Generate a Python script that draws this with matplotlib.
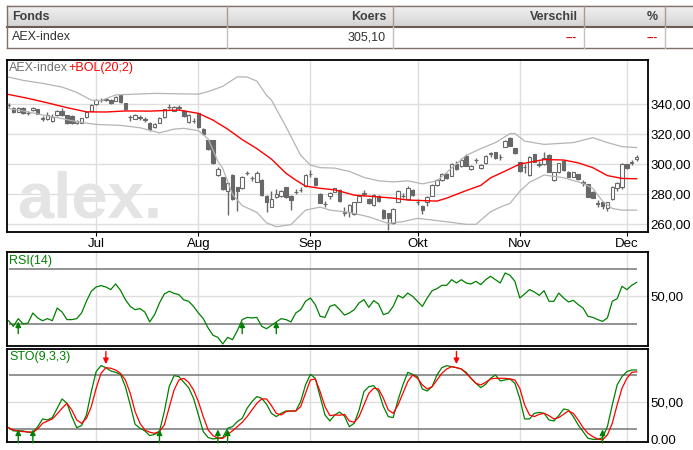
import numpy as np
import matplotlib
matplotlib.use("Agg")
import matplotlib.pyplot as plt
import matplotlib.transforms as mtransforms

plt.rcParams['font.family'] = ['Liberation Sans', 'DejaVu Sans']

# ---- data (AEX-index, daily, trading-day index 0 = 7 jun) ----
opens = [339.8, 337.5, 335.0, 337.5, 334.5, 336.2, 336.6, 330.8, 330.0, 329.0,
         332.6, 335.5, 332.6, 332.2, 327.3, 327.8, 331.3, 335.8, 340.2, 342.8,
         343.2, 342.9, 342.4, 346.2, 340.6, 331.5, 330.4, 331.4, 330.1, 327.8,
         324.6, 327.8, 331.5, 338.3, 335.8, 337.9, 335.8, 328.2, 329.2, 334.0,
         323.8, 316.2, 316.2, 292.6, 291.3, 282.4, 292.9, 284.6, 284.0, 294.3,
         290.8, 288.4, 289.5, 278.9, 271.8, 278.0, 278.9, 284.6, 278.9, 281.7,
         282.8, 285.5, 293.4, 290.9, 280.2, 273.6, 279.0, 281.8, 282.9, 268.1,
         268.0, 266.6, 275.1, 280.5, 276.9, 272.9, 279.1, 269.5, 267.3, 260.6,
         275.1, 279.0, 276.9, 282.9, 275.2, 272.4, 274.6, 279.1, 286.2, 289.5,
         293.3, 292.4, 300.0, 298.6, 305.8, 296.9, 302.8, 297.3, 300.9, 307.2,
         308.0, 305.1, 311.8, 317.3, 310.6, 301.3, 298.5, 292.9, 306.6, 300.1,
         300.0, 306.2, 289.5, 294.6, 302.2, 295.1, 291.8, 293.3, 288.1, 286.6,
         281.8, 274.1, 274.6, 271.1, 276.9, 284.0, 285.1, 300.0, 301.2, 303.5]
closes = [339.3, 335.0, 337.8, 334.0, 334.0, 337.5, 333.8, 330.5, 333.0, 331.8,
          335.8, 332.8, 327.8, 327.5, 329.0, 330.6, 335.0, 339.5, 342.9, 343.0,
          343.4, 340.6, 345.1, 341.5, 336.6, 331.3, 333.0, 331.2, 329.9, 323.3,
          326.9, 330.9, 336.6, 338.5, 338.0, 338.1, 332.2, 332.9, 329.0, 324.6,
          320.2, 310.0, 300.6, 296.6, 283.3, 287.3, 276.6, 282.4, 291.8, 294.5,
          290.6, 294.4, 279.5, 274.9, 276.6, 280.2, 282.4, 278.0, 276.2, 281.9,
          283.0, 292.6, 293.6, 286.2, 274.4, 273.4, 281.0, 284.0, 275.5, 267.9,
          272.9, 274.6, 279.1, 280.7, 274.0, 279.5, 275.5, 264.0, 264.4, 270.2,
          282.2, 279.2, 284.4, 279.5, 275.0, 269.5, 278.2, 286.2, 289.5, 293.3,
          290.6, 300.0, 296.9, 303.1, 299.1, 299.1, 303.0, 299.5, 305.8, 307.4,
          304.0, 304.9, 315.5, 312.4, 307.3, 295.5, 298.3, 305.0, 301.8, 299.9,
          304.4, 295.1, 294.6, 300.6, 296.2, 291.8, 294.6, 290.2, 287.9, 278.4,
          277.8, 273.9, 272.4, 274.6, 285.1, 287.3, 300.0, 297.3, 301.4, 305.1]
highs = [340.8, 338.5, 338.3, 338.0, 335.5, 338.2, 337.0, 332.5, 335.0, 333.5,
         336.2, 337.5, 333.0, 332.8, 329.5, 331.2, 335.5, 340.0, 343.5, 344.0,
         344.2, 343.3, 345.8, 346.5, 341.0, 333.0, 333.5, 332.8, 331.5, 328.2,
         327.3, 331.5, 337.2, 340.0, 338.6, 339.3, 336.3, 333.3, 331.0, 334.5,
         324.2, 316.8, 316.5, 298.5, 291.6, 288.0, 293.3, 285.0, 292.3, 295.8,
         292.5, 295.5, 290.0, 279.3, 282.0, 283.5, 283.0, 285.0, 279.3, 283.5,
         285.0, 293.3, 296.0, 291.5, 280.6, 275.5, 281.8, 284.5, 283.3, 271.5,
         273.5, 275.0, 279.8, 283.0, 277.3, 280.0, 279.5, 270.0, 267.8, 271.0,
         282.8, 281.0, 285.6, 283.3, 277.0, 272.8, 278.8, 286.8, 290.0, 294.5,
         294.5, 301.0, 302.5, 304.0, 306.8, 299.5, 304.5, 300.0, 306.5, 308.5,
         308.5, 307.0, 316.2, 318.0, 311.0, 301.8, 300.5, 305.5, 307.0, 302.0,
         308.0, 306.6, 295.0, 301.0, 302.6, 295.5, 295.0, 293.8, 289.5, 287.0,
         282.3, 276.5, 275.0, 275.0, 285.6, 288.5, 300.8, 300.5, 303.0, 306.5]
lows = [338.5, 334.5, 334.6, 333.5, 332.8, 335.8, 333.3, 329.0, 329.5, 328.3,
        332.0, 332.3, 327.0, 327.0, 326.8, 327.3, 331.0, 335.3, 339.8, 341.8,
        342.5, 340.2, 342.0, 341.2, 336.0, 328.8, 330.0, 329.8, 328.5, 322.5,
        324.0, 327.3, 331.0, 337.2, 335.5, 336.8, 331.8, 327.8, 327.5, 324.0,
        319.8, 309.5, 300.2, 292.2, 282.8, 266.2, 276.0, 269.0, 283.5, 292.8,
        289.0, 288.0, 279.0, 268.4, 271.3, 277.5, 278.5, 277.5, 269.5, 280.5,
        281.8, 285.0, 291.5, 285.8, 274.0, 271.5, 276.9, 281.3, 275.0, 265.3,
        265.0, 266.0, 274.6, 278.8, 273.5, 272.4, 275.0, 263.5, 256.2, 260.2,
        274.6, 277.5, 276.4, 279.0, 273.0, 266.8, 272.5, 278.6, 285.8, 289.0,
        290.0, 292.0, 296.5, 298.2, 298.6, 296.4, 301.0, 296.9, 300.5, 305.0,
        303.5, 303.0, 311.3, 312.0, 306.8, 295.0, 294.0, 292.5, 301.3, 298.3,
        299.5, 294.6, 289.0, 294.2, 295.8, 291.3, 291.3, 289.5, 285.5, 278.0,
        277.3, 271.5, 270.5, 269.0, 276.4, 282.5, 283.5, 296.8, 299.8, 302.5]

# Bollinger (20;2)
ma_day = [0, 4, 8, 12, 16, 20, 24, 29, 35, 39, 42, 45, 48, 51, 54, 57, 59, 61, 64, 67,
          71, 75, 79, 82, 88, 90, 94, 97, 99, 102, 105, 110, 114, 117, 120, 123, 126, 129]
ma_val = [346.6, 344.0, 341.0, 337.8, 335.0, 334.9, 335.6, 335.5, 336.2, 334.0,
          329.5, 323.5, 316.5, 310.5, 303.5, 294.0, 289.5, 285.5, 284.0, 283.0,
          279.5, 278.5, 277.5, 276.2, 275.5, 277.5, 282.5, 286.0, 291.0, 295.5,
          300.2, 303.2, 302.9, 301.0, 297.8, 292.5, 290.6, 290.4]
up_day = [0, 3, 7, 11, 14, 17, 19, 22, 30, 39, 41, 44, 47, 49, 51, 53, 54, 57, 60, 62,
          64, 67, 70, 73, 76, 79, 82, 85, 88, 91, 94, 97, 100, 103, 104, 106, 110, 116,
          120, 123, 126, 129]
up_val = [358.2, 356.0, 354.0, 351.5, 348.0, 342.8, 342.5, 346.3, 347.3, 346.8,
          348.5, 352.0, 358.4, 358.2, 355.5, 346.0, 342.9, 325.0, 306.0, 299.5,
          297.8, 297.5, 295.3, 291.3, 289.0, 288.3, 289.0, 287.0, 289.0, 297.5,
          306.0, 310.5, 314.5, 320.5, 320.6, 315.5, 313.3, 314.5, 317.8, 314.5,
          311.8, 311.2]
lo_day = [0, 4, 7, 11, 14, 18, 23, 27, 31, 34, 36, 39, 41, 43, 44, 46, 48, 51, 53, 55,
          58, 61, 64, 66, 70, 74, 78, 81, 84, 87, 91, 94, 96, 99, 101, 103, 105, 107,
          110, 114, 118, 120, 122, 124, 126, 129]
lo_val = [337.3, 335.0, 332.9, 330.5, 328.4, 326.6, 326.0, 324.4, 321.0, 323.5,
          324.0, 322.5, 317.0, 302.0, 297.3, 280.0, 272.5, 268.0, 261.0, 258.4,
          259.8, 269.5, 271.5, 269.5, 268.0, 265.0, 260.6, 261.8, 264.0, 262.9,
          261.3, 260.0, 260.0, 268.4, 271.5, 274.0, 282.0, 288.0, 292.9, 291.1,
          287.3, 284.0, 275.5, 270.6, 269.5, 269.5]

rsi = [32.4, 28.3, 33.9, 30.0, 30.7, 38.0, 34.4, 32.4, 33.9, 32.4,
       41.6, 38.7, 33.2, 33.2, 33.9, 38.0, 46.5, 53.8, 56.9, 57.9,
       56.9, 55.0, 59.1, 54.5, 47.7, 42.8, 40.4, 41.2, 38.7, 31.5,
       36.8, 45.3, 51.8, 53.8, 52.3, 51.3, 47.5, 46.5, 42.8, 38.0,
       33.9, 27.1, 21.8, 20.3, 15.5, 20.3, 18.6, 25.2, 33.2, 34.8,
       34.4, 34.8, 28.3, 26.6, 29.0, 31.5, 33.9, 33.2, 31.5, 38.0,
       40.4, 46.5, 48.9, 44.1, 35.6, 34.8, 42.8, 44.1, 40.5, 36.5,
       38.0, 40.4, 45.3, 47.7, 42.1, 47.0, 44.5, 36.8, 38.0, 42.8,
       50.8, 48.9, 52.5, 50.1, 46.5, 42.8, 48.9, 54.2, 55.7, 58.1,
       58.1, 62.2, 59.8, 62.2, 59.8, 59.1, 61.0, 58.6, 62.2, 64.7,
       62.2, 59.8, 67.1, 65.4, 61.0, 48.9, 51.8, 55.0, 53.3, 50.8,
       54.2, 46.5, 46.5, 52.5, 48.9, 46.0, 47.2, 44.1, 41.6, 35.6,
       34.8, 33.2, 31.9, 34.4, 46.5, 48.4, 57.4, 55.0, 58.1, 60.3]

sto_k = [21.8, 18.2, 18.2, 18.2, 16.7, 16.7, 22.9, 31.4, 30.3, 32.9,
         43.2, 53.5, 48.7, 34.0, 21.8, 24.0, 35.8, 61.6, 83.7, 90.3,
         88.1, 84.4, 82.9, 80.7, 67.1, 46.9, 25.5, 21.1, 18.2, 13.0,
         14.4, 17.4, 39.5, 67.1, 79.3, 78.2, 71.9, 66.0, 54.2, 35.8,
         17.4, 10.8, 9.3, 10.0, 10.8, 21.1, 22.9, 28.5, 32.1, 43.2,
         50.5, 56.1, 54.2, 47.6, 37.6, 34.0, 37.6, 40.2, 40.2, 40.2,
         50.5, 69.0, 80.7, 76.3, 56.1, 35.8, 29.2, 35.8, 39.0, 34.5,
         22.9, 26.6, 41.3, 61.6, 67.1, 68.2, 61.6, 45.0, 34.0, 32.9,
         52.4, 69.0, 82.9, 80.7, 78.2, 64.5, 62.3, 67.1, 80.0, 88.1,
         90.3, 89.2, 88.1, 86.6, 82.9, 76.3, 70.8, 66.0, 69.7, 76.3,
         80.0, 73.4, 74.5, 75.6, 70.8, 54.2, 31.4, 31.4, 37.6, 38.7,
         37.6, 30.3, 29.2, 35.1, 42.4, 41.3, 34.0, 24.8, 17.4, 10.0,
         8.9, 8.9, 10.8, 22.9, 46.9, 69.0, 78.2, 83.7, 85.5, 85.5]
sto_d = [21.8, 19.2, 18.0, 17.4, 17.0, 16.7, 20.4, 26.6, 29.0, 31.4,
         37.0, 43.2, 48.7, 41.3, 30.3, 26.6, 32.1, 45.0, 65.3, 81.8,
         88.1, 87.4, 85.5, 81.8, 74.5, 59.8, 39.5, 26.6, 19.2, 16.7,
         15.6, 17.4, 24.8, 43.9, 63.4, 74.5, 76.3, 71.9, 63.4, 50.5,
         34.0, 19.2, 13.0, 10.0, 10.0, 14.4, 18.2, 22.9, 27.7, 34.0,
         41.3, 48.7, 53.5, 53.5, 46.1, 37.6, 35.8, 39.5, 40.2, 40.2,
         45.0, 59.8, 74.5, 75.6, 61.6, 45.0, 35.1, 35.8, 35.5, 36.5,
         29.2, 27.7, 34.0, 46.9, 59.8, 65.3, 64.5, 54.2, 41.3, 37.6,
         46.9, 59.8, 72.6, 80.0, 76.3, 69.0, 64.5, 67.1, 74.5, 81.8,
         86.6, 89.2, 88.1, 86.6, 81.8, 76.3, 70.8, 69.0, 71.9, 75.6,
         76.3, 76.3, 76.3, 75.6, 74.5, 65.3, 46.9, 35.8, 34.0, 36.5,
         37.6, 35.1, 31.4, 32.9, 36.5, 40.2, 37.6, 30.3, 21.8, 15.6,
         11.9, 9.3, 8.2, 13.7, 26.6, 46.9, 65.3, 76.3, 82.9, 83.5]

rsi_buy = [2, 48, 55]
sto_buy = [2, 5, 31, 43, 45, 122]
sto_sell = [20, 92]

month_day = [18, 39, 62, 84, 105, 127]
month_lbl = ['Jul', 'Aug', 'Sep', 'Okt', 'Nov', 'Dec']
price_ticks = [260, 280, 300, 320, 340]
price_lbl = ['260,00', '280,00', '300,00', '320,00', '340,00']

# ---- figure ----
W, H = 693, 450
fig = plt.figure(figsize=(W / 100, H / 100), dpi=100)


def box(x0, y0, x1, y1):
    return [x0 / W, 1 - y1 / H, (x1 - x0) / W, (y1 - y0) / H]


GRID = '#dedede'
CANDLE = '#686868'
GREEN = '#008000'

# header table
tab = fig.add_axes([0, 0, 1, 1])
tab.set_xlim(0, W)
tab.set_ylim(H, 0)
tab.axis('off')
grad = np.linspace(0.95, 0.83, 30).reshape(-1, 1)
tab.imshow(grad, cmap='gray', vmin=0, vmax=1, aspect='auto',
           extent=(6.7, W, 27.3, 5.7), zorder=0)
border = '#7f7068'
tab.plot([6.7, W], [5.7, 5.7], color=border, lw=1)
tab.plot([6.7, W], [27.3, 27.3], color='#6a5c54', lw=1.5)
tab.plot([6.7, W], [47.7, 47.7], color=border, lw=1)
tab.plot([6.7, 6.7], [5.7, 47.7], color=border, lw=1)
for xs in [226.7, 393.3, 583.6, 665.3]:
    tab.plot([xs, xs], [5.7, 27.3], color='#a89a90', lw=1)
    tab.plot([xs, xs], [27.3, 47.7], color='#c8c0ba', lw=1)
hdr = dict(fontsize=9, fontweight='bold', color='#404040', va='center')
tab.text(12, 16.5, 'Fonds', ha='left', **hdr)
tab.text(386, 16.5, 'Koers', ha='right', **hdr)
tab.text(578, 16.5, 'Verschil', ha='right', **hdr)
tab.text(658, 16.5, '%', ha='right', **hdr)
row = dict(fontsize=9, color='#333333', va='center')
tab.text(12, 37.5, 'AEX-index', ha='left', **row)
tab.text(386, 37.5, '305,10', ha='right', **row)
dash = dict(fontsize=8, color='#e00000', va='center', ha='right', fontweight='bold')
tab.text(577, 37.5, '---', **dash)
tab.text(658, 37.5, '---', **dash)

XLIM = (-0.25, 131.4)


def frame(ax):
    for s in ax.spines.values():
        s.set_color('black')
        s.set_linewidth(1.3)
    ax.set_xlim(*XLIM)
    ax.set_xticks(month_day)
    ax.grid(True, color=GRID, lw=1)
    ax.set_axisbelow(True)
    ax.yaxis.tick_right()
    ax.tick_params(axis='y', length=0, pad=1.5, labelsize=9.5)


# ---- price panel ----
ax = fig.add_axes(box(7.3, 59.5, 648.3, 232))
frame(ax)
ax.set_ylim(254.9, 369.9)
ax.set_yticks(price_ticks)
ax.set_yticklabels(price_lbl)
ax.set_xticklabels(month_lbl)
ax.tick_params(axis='x', length=3, direction='out', pad=1, labelsize=9.5)

ax.text(0.016, 0.085, 'alex.', transform=ax.transAxes, fontsize=47,
        fontweight='bold', color='#e4e4e4', va='baseline', zorder=1)

days = np.arange(len(closes))
o = np.array(opens)
c = np.array(closes)
rising = c >= o
ax.vlines(days, lows, highs, color=CANDLE, lw=1, zorder=3)
ax.bar(days, np.maximum(np.abs(c - o), 0.05), bottom=np.minimum(o, c), width=0.72,
       color=np.where(rising, 'white', CANDLE), edgecolor=CANDLE, linewidth=0.8,
       zorder=4)
ax.plot(up_day, up_val, color='#b4b4b4', lw=0.9, zorder=5)
ax.plot(lo_day, lo_val, color='#b4b4b4', lw=0.9, zorder=5)
ax.plot(ma_day, ma_val, color='#ff0000', lw=1.0, zorder=6)

t1 = ax.text(0.003, 0.951, 'AEX-index', transform=ax.transAxes, fontsize=9,
             color='#707070', ha='left', va='center', zorder=7)
ax.annotate('+BOL(20;2)', xy=(1, 0.5), xycoords=t1, fontsize=9, color='#ff0000',
            ha='left', va='center', zorder=7)

arrow_kw = dict(arrowstyle='-|>', lw=1, shrinkA=0, shrinkB=0, mutation_scale=8)

# ---- RSI panel ----
ar = fig.add_axes(box(7.3, 252.3, 648.3, 346.3))
frame(ar)
ar.set_ylim(13.8, 82.1)
ar.set_yticks([50])
ar.set_yticklabels(['50,00'])
ar.tick_params(axis='x', length=0, labelbottom=False)
ar.hlines([70, 30], 0, days[-1], color='#808080', lw=1.2, zorder=2)
ar.plot(days, rsi, color=GREEN, lw=0.9, zorder=4)
for d in rsi_buy:
    ar.annotate('', xy=(d, 31.8), xytext=(d, 23.0),
                arrowprops=dict(color=GREEN, **arrow_kw), zorder=5)
ar.text(0.003, 0.905, 'RSI(14)', transform=ar.transAxes, fontsize=9,
        color=GREEN, ha='left', va='center')

# ---- STO panel ----
ast = fig.add_axes(box(7.3, 349, 648.3, 442.3))
frame(ast)
ast.set_ylim(5.6, 108.7)
ast.set_yticks([50])
ast.set_yticklabels(['50,00'])
ast.tick_params(axis='x', length=0, labelbottom=False)
ast.hlines([80, 20], 0, days[-1], color='#808080', lw=1.2, zorder=2)
ast.plot(days, sto_k, color=GREEN, lw=0.9, zorder=4)
ast.plot(days, sto_d, color='#ff0000', lw=0.9, zorder=4)
for d in sto_buy:
    ast.annotate('', xy=(d, 19.8), xytext=(d, 5.0),
                 arrowprops=dict(color=GREEN, **arrow_kw), zorder=5)
for d in sto_sell:
    ast.annotate('', xy=(d, 92.0), xytext=(d, 106.0),
                 arrowprops=dict(color='#ff0000', **arrow_kw), zorder=5)
ast.text(0.003, 0.91, 'STO(9,3,3)', transform=ast.transAxes, fontsize=9,
         color=GREEN, ha='left', va='center')
# bottom label sits just under the panel's lower edge
trans = mtransforms.blended_transform_factory(ast.transAxes, fig.transFigure)
ast.text(1.0 + 2.0 / (648.3 - 7.3), 1 - 441.0 / H, '0.00', transform=trans,
         fontsize=9.5, ha='left', va='center', clip_on=False)

fig.savefig('out.png', dpi=100)
